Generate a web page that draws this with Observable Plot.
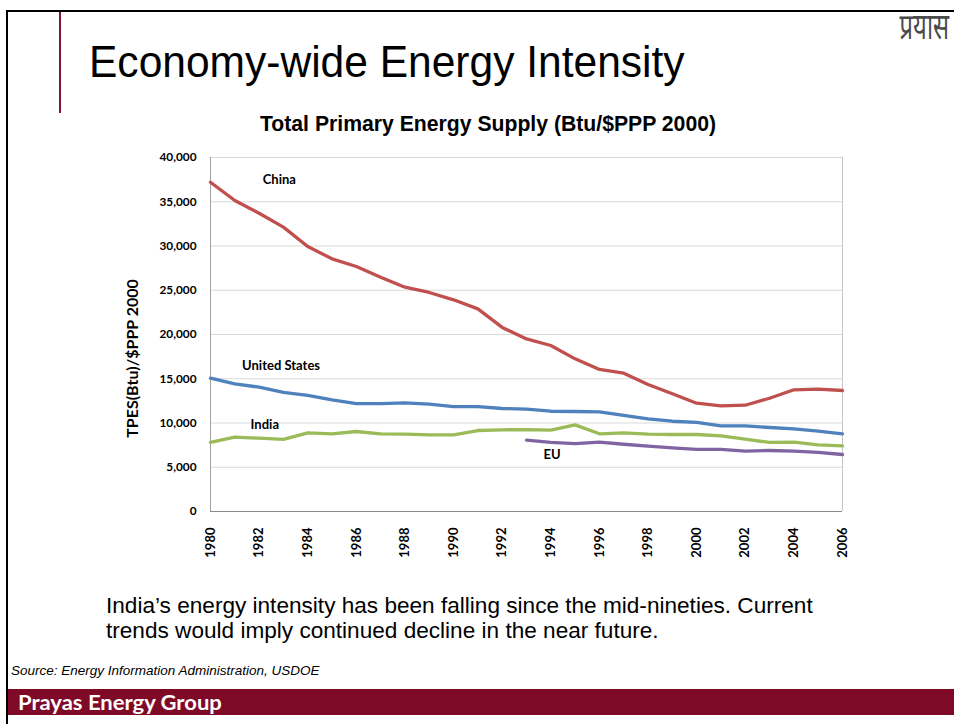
<!DOCTYPE html>
<html>
<head>
<meta charset="utf-8">
<script src="https://cdn.jsdelivr.net/npm/d3@7"></script>
<script src="https://cdn.jsdelivr.net/npm/@observablehq/plot@0.6"></script>
<style>
  html, body { margin: 0; padding: 0; background: #fff; }
  #slide { position: relative; width: 954px; height: 724px; overflow: hidden; background: #fff;
           font-family: "Liberation Sans", Arial, sans-serif; color: #000; }
  .abs { position: absolute; white-space: nowrap; }
  #topline { left: 6px; top: 10px; width: 948px; height: 2px; background: #000; }
  #leftline { left: 6px; top: 10px; width: 2px; height: 714px; background: #000; }
  #accent { left: 59px; top: 12px; width: 2px; height: 101px; background: #7f1734; }
  #logo { right: 5px; top: 4px; font-size: 25px; line-height: 28px; color: #4a4a4a; font-family: "Noto Sans", "DejaVu Sans", sans-serif;
          transform: scale(0.95, 1.45); transform-origin: right top; }
  #title { left: 89px; top: 39px; font-size: 45px; line-height: 45px; transform: scaleX(0.945); transform-origin: left top; }
  #ctitle { left: 0; width: 976px; text-align: center; top: 113px; font-size: 21.2px; line-height: 21px; font-weight: bold; }
  #body { left: 106px; top: 593px; font-size: 22.6px; line-height: 25px; }
  #source { left: 11px; top: 664px; font-size: 13.5px; line-height: 13px; font-style: italic; }
  #bar { left: 8px; top: 689px; width: 946px; height: 26px; background: #7f0a28; }
  #bartext { left: 18px; top: 692px; font-family: Lato, sans-serif; font-weight: bold; font-size: 20px; line-height: 20px; color: #fff;
             transform: scaleX(1.1); transform-origin: left top; }
  #chart { left: 110px; top: 140px; }
</style>
</head>
<body>
<div id="slide">
  <div id="topline" class="abs"></div>
  <div id="leftline" class="abs"></div>
  <div id="accent" class="abs"></div>
  <div id="logo" class="abs">प्रयास</div>
  <div id="title" class="abs">Economy-wide Energy Intensity</div>
  <div id="ctitle" class="abs">Total Primary Energy Supply (Btu/$PPP 2000)</div>
  <div id="chart" class="abs"></div>
  <div id="body" class="abs">India’s energy intensity has been falling since the mid-nineties. Current<br>trends would imply continued decline in the near future.</div>
  <div id="source" class="abs">Source: Energy Information Administration, USDOE</div>
  <div id="bar" class="abs"></div>
  <div id="bartext" class="abs">Prayas Energy Group</div>
</div>
<script>
// ---- data (Btu per $PPP 2000) ----
const years = [1980,1981,1982,1983,1984,1985,1986,1987,1988,1989,1990,1991,1992,1993,1994,1995,1996,1997,1998,1999,2000,2001,2002,2003,2004,2005,2006];
const china = [37200,35140,33700,32130,29940,28550,27680,26480,25350,24750,23920,22900,20800,19500,18760,17250,16050,15630,14350,13300,12240,11940,12010,12800,13750,13820,13670];
const unitedStates = [15060,14430,14050,13450,13110,12620,12200,12200,12280,12130,11860,11860,11640,11560,11330,11300,11260,10850,10470,10200,10060,9680,9680,9490,9340,9080,8780];
const india = [7800,8400,8280,8140,8890,8780,9040,8780,8740,8660,8660,9150,9230,9250,9190,9790,8780,8890,8740,8700,8700,8550,8170,7800,7840,7530,7420];
const euYears = [1993,1994,1995,1996,1997,1998,1999,2000,2001,2002,2003,2004,2005,2006];
const eu = [8060,7800,7680,7830,7600,7380,7200,7010,7010,6820,6890,6820,6670,6440];

const seriesNames = ["China", "United States", "India", "EU"];
const seriesColors = ["#c0504d", "#4f81bd", "#9bbb59", "#8064a2"];

const xTicks = [1980,1982,1984,1986,1988,1990,1992,1994,1996,1998,2000,2002,2004,2006];
const yTicks = [0,5000,10000,15000,20000,25000,30000,35000,40000];
const yLabel = "TPES(Btu)/$PPP 2000";

// series labels placed next to their lines (data units)
const labelText = ["China", "United States", "India", "EU"];
const labelYear = [1982.15, 1981.3, 1981.65, 1993.7];
const labelValue = [37480, 16420, 9800, 6400];

// ---- build table ----
const rows = [];
years.forEach((y, i) => {
  rows.push({series: "China", year: y, value: china[i]});
  rows.push({series: "United States", year: y, value: unitedStates[i]});
  rows.push({series: "India", year: y, value: india[i]});
});
euYears.forEach((y, i) => rows.push({series: "EU", year: y, value: eu[i]}));
const labels = labelText.map((t, i) => ({text: t, year: labelYear[i], value: labelValue[i]}));

const chart = Plot.plot({
  width: 760,
  height: 430,
  marginLeft: 100,
  marginRight: 28,
  marginTop: 17,
  marginBottom: 59,
  style: {fontFamily: "Lato, sans-serif", fontWeight: "bold", color: "#000", background: "transparent", overflow: "visible"},
  x: {domain: [1980, 2006]},
  y: {domain: [0, 40000]},
  color: {domain: seriesNames, range: seriesColors},
  marks: [
    Plot.gridY(yTicks, {stroke: "#d9d9d9", strokeOpacity: 1, strokeWidth: 1}),
    Plot.ruleX([2006], {stroke: "#c4c4c4", strokeWidth: 1}),
    Plot.ruleX([1980], {stroke: "#a0a0a0", strokeWidth: 1}),
    Plot.ruleY([0], {stroke: "#8a8a8a", strokeWidth: 1}),
    Plot.axisY(yTicks, {tickSize: 0, tickPadding: 14, tickFormat: d3.format(","), fontSize: 11.8, label: null}),
    Plot.axisX(xTicks, {tickSize: 0, tickPadding: 16, tickRotate: -90, tickFormat: d => String(d), fontSize: 13, label: null}),
    Plot.text([yLabel], {text: d => d, frameAnchor: "left", textAnchor: "middle", lineAnchor: "middle", rotate: -90, dx: -78, dy: 24, fontSize: 16, fontWeight: "bold", fill: "#000"}),
    Plot.line(rows, {x: "year", y: "value", z: "series", stroke: "series", strokeWidth: 3.3, curve: "linear"}),
    Plot.text(labels, {x: "year", y: "value", text: "text", textAnchor: "start", fontSize: 13, fontWeight: "bold", fill: "#000"})
  ]
});
document.getElementById("chart").appendChild(chart);
</script>
</body>
</html>
